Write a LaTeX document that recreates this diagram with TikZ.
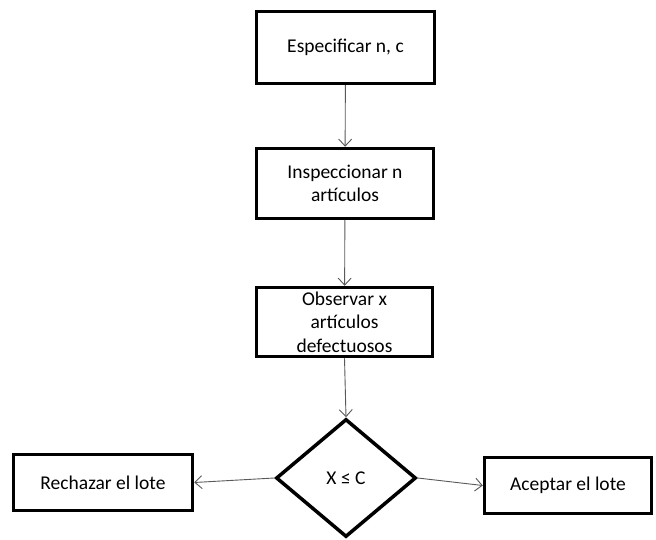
\documentclass[tikz,border=0pt]{standalone}
\usepackage{fontspec}
\setmainfont{Carlito}
\usetikzlibrary{shapes.geometric,arrows.meta}
\begin{document}
\begin{tikzpicture}[x=1pt,y=-1pt,
  box/.style={draw, line width=3.5pt, align=center, font=\fontsize{19.5}{23.5}\selectfont, inner sep=0pt},
  dec/.style={draw, diamond, line width=3.5pt, font=\fontsize{19.5}{23.5}\selectfont, inner sep=0pt, minimum width=140pt, minimum height=118pt},
  arr/.style={draw=black!65, line width=0.9pt, -{Straight Barb[length=7pt,width=13pt,line width=0.9pt]}}]
\useasboundingbox (0,0) rectangle (656,540);
\node[box, minimum width=178pt, minimum height=72pt] (spec) at (345.5,47.5) {Especificar n, c};
\node[box, minimum width=177pt, minimum height=70pt] (insp) at (345,183.5) {Inspeccionar n\\artículos};
\node[box, minimum width=176pt, minimum height=69pt] (obs) at (344.5,322) {Observar x\\artículos\\defectuosos};
\node[dec] (dec) at (346,478) {X ≤ C};
\node[box, minimum width=179pt, minimum height=56pt] (rech) at (103,482.5) {Rechazar el lote};
\node[box, minimum width=167pt, minimum height=56pt] (acep) at (568,485.5) {Aceptar el lote};
\draw[arr] (spec) -- (insp);
\draw[arr] (insp) -- (obs);
\draw[arr] (obs.south) -- (dec.north);
\draw[arr] (dec.west) -- (rech.east);
\draw[arr] (dec.east) -- (acep.west);
\end{tikzpicture}
\end{document}
